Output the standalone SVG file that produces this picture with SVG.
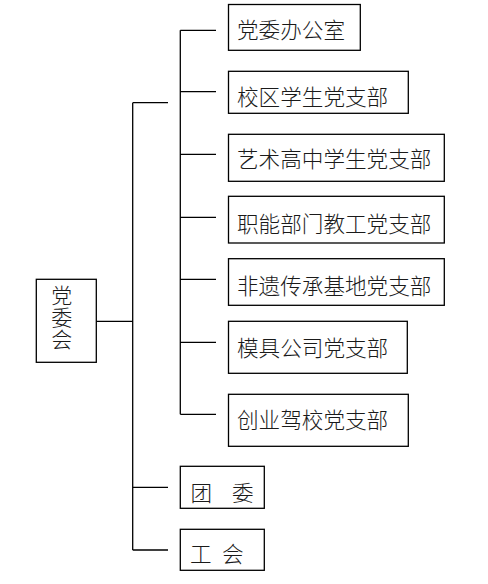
<svg xmlns="http://www.w3.org/2000/svg" width="488" height="584" viewBox="0 0 488 584">
<style>
.b{fill:#fff;stroke:#000;stroke-width:1.3}
.c{fill:none;stroke:#000;stroke-width:1.3}
text{font-family:"Noto Sans CJK SC","Noto Sans CJK JP",sans-serif;font-size:21.6px;fill:#1a1a1a;font-weight:300}
.v{writing-mode:vertical-rl;font-size:21px;letter-spacing:0.7px}
</style>
<rect width="488" height="584" fill="#fff"/>
<g id="connectors">
<path class="c" d="M96.3,321.3H132.7M132.7,102.7V550M132.7,102.7H168M132.7,487.3H168M132.7,550H168"/>
<path class="c" d="M180.3,30.3V414.3M180.3,30.3H216M180.3,91.7H216M180.3,154.3H216M180.3,217.3H216M180.3,279.3H216M180.3,342.3H216M180.3,414.3H216"/>
</g>
<g id="dangweihui"><rect class="b" x="36.3" y="279.3" width="60" height="83"/>
<text class="v" x="61.7" y="285">党委会</text></g>
<g id="n1"><rect class="b" x="228.5" y="4.5" width="131.8" height="45.8"/><text x="237" y="37.5">党委办公室</text></g>
<g id="n2"><rect class="b" x="228.5" y="71.3" width="179.8" height="42"/><text x="237" y="105">校区学生党支部</text></g>
<g id="n3"><rect class="b" x="228.5" y="134.3" width="215.8" height="47"/><text x="237" y="166.5">艺术高中学生党支部</text></g>
<g id="n4"><rect class="b" x="228.5" y="196.3" width="215.8" height="46.7"/><text x="237" y="231.5">职能部门教工党支部</text></g>
<g id="n5"><rect class="b" x="228.5" y="258.7" width="215.8" height="46.6"/><text x="237" y="294">非遗传承基地党支部</text></g>
<g id="n6"><rect class="b" x="228.5" y="321.3" width="178.8" height="52"/><text x="237" y="356">模具公司党支部</text></g>
<g id="n7"><rect class="b" x="228.5" y="394.3" width="179.8" height="52"/><text x="237" y="428">创业驾校党支部</text></g>
<g id="tuanwei"><rect class="b" x="180.3" y="466.3" width="84" height="42"/><text x="190.5" y="501">团</text><text x="232" y="501">委</text></g>
<g id="gonghui"><rect class="b" x="180.3" y="529.3" width="84" height="41"/><text x="190" y="562">工</text><text x="222" y="562">会</text></g>
</svg>
